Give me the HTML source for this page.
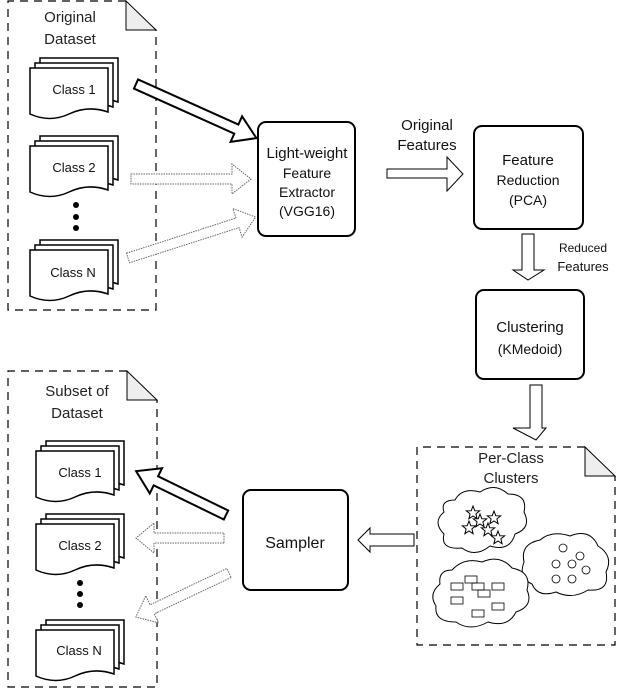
<!DOCTYPE html>
<html><head><meta charset="utf-8"><style>
html,body{margin:0;padding:0;background:#fff;}
svg{display:block;font-family:"Liberation Sans",sans-serif;}
</style></head><body>
<svg width="627" height="688" viewBox="0 0 627 688" xmlns="http://www.w3.org/2000/svg">
<defs>
<path id="doc" d="M0,0 H78 V44 Q58,37 39,46 Q20,55 0,46 Z"/>
<g id="mdoc">
 <use href="#doc" x="10" y="-10" fill="#fff" stroke="#000" stroke-width="1.5"/>
 <use href="#doc" x="5" y="-5" fill="#fff" stroke="#000" stroke-width="1.5"/>
 <use href="#doc" x="0" y="0" fill="#fff" stroke="#000" stroke-width="1.5"/>
</g>
<polygon id="star" points="0,-7 1.8,-2.3 6.7,-2.2 2.9,0.9 4.1,5.7 0,3 -4.1,5.7 -2.9,0.9 -6.7,-2.2 -1.8,-2.3" fill="#fff" stroke="#000" stroke-width="1"/>
</defs>
<g fill="none" stroke="#000" stroke-width="1.2" stroke-dasharray="8,6">
 <path d="M126,1 H8 V310 H156 V30"/>
 <path d="M127,371 H8 V687 H157 V400"/>
 <path d="M585,447 H417 V645 H615 V476"/>
</g>
<g fill="#eee" stroke="#000" stroke-width="1">
 <path d="M126,1 L156,30 H126 Z"/>
 <path d="M127,371 L157,400 H127 Z"/>
 <path d="M585,447 L615,476 H585 Z"/>
</g>
<g font-size="15" fill="#222" text-anchor="middle">
 <text x="70" y="22">Original</text><text x="70" y="44">Dataset</text>
 <text x="77" y="396">Subset of</text><text x="77" y="418">Dataset</text>
 <text x="511" y="463">Per-Class</text><text x="511" y="483">Clusters</text>
</g>
<use href="#mdoc" x="30" y="68"/><use href="#mdoc" x="30" y="146"/><use href="#mdoc" x="30" y="250"/>
<use href="#mdoc" x="36" y="451"/><use href="#mdoc" x="36" y="524"/><use href="#mdoc" x="36" y="630"/>
<g font-size="13" fill="#111" text-anchor="middle">
 <text x="74" y="94">Class 1</text><text x="74" y="172">Class 2</text><text x="73" y="277">Class N</text>
 <text x="80" y="477">Class 1</text><text x="80" y="550">Class 2</text><text x="79" y="655">Class N</text>
</g>
<g fill="#000"><circle cx="76" cy="205" r="3"/><circle cx="76" cy="217" r="3"/><circle cx="76" cy="228" r="3"/>
<circle cx="80" cy="583" r="3"/><circle cx="80" cy="594" r="3"/><circle cx="80" cy="605" r="3"/></g>
<g fill="#fff" stroke="#000" stroke-width="2">
 <rect x="258" y="122" width="97" height="114" rx="8"/>
 <rect x="474" y="126" width="109" height="103" rx="8"/>
 <rect x="476" y="290" width="108" height="89" rx="8"/>
 <rect x="243" y="490" width="105" height="100" rx="8"/>
</g>
<g fill="#111" text-anchor="middle">
 <text x="307" y="158" font-size="15">Light-weight</text>
 <text x="307" y="178" font-size="14">Feature</text>
 <text x="307" y="197" font-size="14">Extractor</text>
 <text x="307" y="216" font-size="14">(VGG16)</text>
 <text x="528" y="165" font-size="15">Feature</text>
 <text x="528" y="185" font-size="14">Reduction</text>
 <text x="528" y="205" font-size="14">(PCA)</text>
 <text x="530" y="332" font-size="15">Clustering</text>
 <text x="530" y="354" font-size="14">(KMedoid)</text>
 <text x="295" y="548" font-size="16">Sampler</text>
 <text x="427" y="130" font-size="15">Original</text>
 <text x="427" y="150" font-size="15">Features</text>
 <text x="583" y="252" font-size="12">Reduced</text>
 <text x="583" y="271" font-size="13">Features</text>
</g>
<g fill="#fff" stroke="#000" stroke-width="2">
 <polygon transform="translate(136,84) rotate(24.2)" points="0,-5 110,-5 110,-14 132,0 110,14 110,5 0,5"/>
 <polygon transform="translate(226,515) rotate(206)" points="0,-5 78,-5 78,-14 100,0 78,14 78,5 0,5"/>
</g>
<g fill="#fff" stroke="#000" stroke-width="1">
 <polygon points="387,169 447,169 447,157 463,174 447,191 447,178 387,178"/>
 <polygon points="522,234 534,234 534,270 544,270 528,280 513,270 522,270"/>
 <polygon points="530,385 542,385 542,428 546,428 536,440 513,428 530,428"/>
 <polygon points="414,534 370,534 370,528 358,540 370,552 370,546 414,546"/>
</g>
<g fill="#fff" stroke="#666" stroke-width="1" stroke-dasharray="1.5,1">
 <polygon transform="translate(131,179)" points="0,-5 101,-5 101,-15 120,0 101,15 101,5 0,5"/>
 <polygon transform="translate(128,258) rotate(-17.8)" points="0,-5 115,-5 115,-15 134,0 115,15 115,5 0,5"/>
 <polygon transform="translate(224,538) rotate(180)" points="0,-5 70,-5 70,-15 88,0 70,15 70,5 0,5"/>
 <polygon transform="translate(229,573) rotate(154.7)" points="0,-5 85,-5 85,-15 103,0 85,15 85,5 0,5"/>
</g>
<g fill="#fff" stroke="#000" stroke-width="1">
 <path d="M455,500 Q462,487 480,492 Q495,482 508,494 Q528,494 524,512 Q532,528 515,534 Q510,552 490,546 Q475,558 462,548 Q440,550 444,534 Q432,522 444,512 Q440,500 455,500 Z"/>
 <path d="M540,540 Q552,530 570,536 Q590,528 598,546 Q614,556 606,572 Q610,592 588,590 Q572,600 556,592 Q538,598 532,584 Q518,578 524,562 Q520,544 540,540 Z"/>
 <path d="M452,570 Q464,557 482,562 Q500,554 512,568 Q532,572 527,590 Q534,606 516,612 Q508,628 488,622 Q470,632 456,622 Q434,622 436,606 Q428,594 440,584 Q438,570 452,570 Z"/>
</g>
<use href="#star" x="473" y="513"/><use href="#star" x="480" y="521"/><use href="#star" x="494" y="518"/>
<use href="#star" x="469" y="528"/><use href="#star" x="488" y="530"/><use href="#star" x="498" y="538"/>
<g fill="none" stroke="#000" stroke-width="0.8">
 <circle cx="563" cy="548" r="4"/><circle cx="580" cy="556" r="4"/><circle cx="556" cy="564" r="4"/>
 <circle cx="572" cy="564" r="4"/><circle cx="586" cy="570" r="4"/><circle cx="556" cy="579" r="4"/><circle cx="572" cy="579" r="4"/>
 <rect x="465" y="576" width="12" height="7"/><rect x="451" y="583" width="12" height="7"/><rect x="472" y="583" width="12" height="7"/>
 <rect x="478" y="590" width="12" height="7"/><rect x="492" y="583" width="12" height="7"/><rect x="451" y="597" width="12" height="7"/>
 <rect x="492" y="603" width="12" height="7"/><rect x="472" y="610" width="12" height="7"/>
</g>
</svg>
</body></html>
